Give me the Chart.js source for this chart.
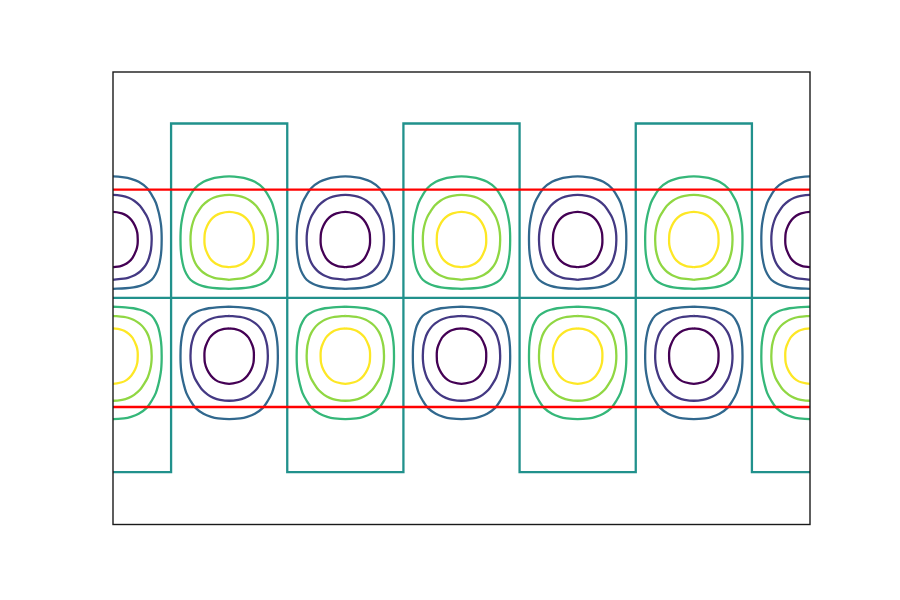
<!DOCTYPE html>
<html>
<head>
<meta charset="utf-8">
<script src="https://cdn.jsdelivr.net/npm/chart.js@4"></script>
<style>
  html, body { margin: 0; padding: 0; background: #fff; }
  #wrap { width: 900px; height: 600px; }
</style>
</head>
<body>
<div id="wrap"><canvas id="chart" width="900" height="600"></canvas></div>
<script>
// cell centres along x and the sign of the field in each row
const columns = [0, 1, 2, 3, 4, 5, 6];
const topRowSign = [-1, 1, -1, 1, -1, 1, -1];
const bottomRowSign = [1, -1, 1, -1, 1, -1, 1];

// contour levels and their viridis colours
const levels = [-0.75, -0.5, -0.25, 0, 0.25, 0.5, 0.75];
const levelColors = ["#440154", "#443983", "#31688e", "#21918c", "#35b779", "#90d743", "#fde725"];

// ring outlines (top row): height above the middle line, half width at that height
const outerY = [0.077, 0.082, 0.090, 0.103, 0.120, 0.155, 0.207, 0.263, 0.344, 0.420, 0.499, 0.560, 0.620, 0.680, 0.740, 0.818, 0.886, 0.947, 0.998, 1.024, 1.037, 1.044];
const outerHalfW = [0, 0.106, 0.176, 0.233, 0.280, 0.333, 0.369, 0.392, 0.409, 0.417, 0.419, 0.418, 0.414, 0.405, 0.392, 0.369, 0.333, 0.290, 0.221, 0.155, 0.095, 0];
const middleY = [0.155, 0.164, 0.172, 0.189, 0.207, 0.232, 0.263, 0.300, 0.344, 0.413, 0.499, 0.560, 0.620, 0.688, 0.740, 0.792, 0.835, 0.861, 0.878, 0.886];
const middleHalfW = [0, 0.093, 0.129, 0.176, 0.207, 0.240, 0.268, 0.292, 0.310, 0.327, 0.333, 0.330, 0.320, 0.298, 0.268, 0.232, 0.182, 0.135, 0.079, 0];
const innerY = [0.263, 0.271, 0.284, 0.310, 0.344, 0.413, 0.455, 0.499, 0.560, 0.620, 0.671, 0.706, 0.727, 0.740];
const innerHalfW = [0, 0.060, 0.096, 0.136, 0.168, 0.201, 0.211, 0.213, 0.209, 0.189, 0.157, 0.119, 0.076, 0];

// zero contour: square wave plus the middle line
const zeroWaveX = [0, 0.5, 0.5, 1.5, 1.5, 2.5, 2.5, 3.5, 3.5, 4.5, 4.5, 5.5, 5.5, 6];
const zeroWaveY = [-1.5, -1.5, 1.5, 1.5, -1.5, -1.5, 1.5, 1.5, -1.5, -1.5, 1.5, 1.5, -1.5, -1.5];
const zeroMidX = [0, 6];
const zeroMidY = [0, 0];

// horizontal red lines
const redLineY = [0.93, -0.94];

const xRange = [0, 6];
const yRange = [-1.951, 1.943];

function colorFor(level) {
  return levelColors[levels.indexOf(level)];
}

// closed outline: right side going outward, left side coming back
function ringPoints(cx, sign, ys, halfWs) {
  const pts = [];
  for (let i = 0; i < ys.length; i++) pts.push({ x: cx + halfWs[i], y: sign * ys[i] });
  for (let i = ys.length - 2; i >= 0; i--) pts.push({ x: cx - halfWs[i], y: sign * ys[i] });
  return pts;
}

const lineStyle = { showLine: true, pointRadius: 0, borderWidth: 2.3, fill: false };
const datasets = [];

redLineY.forEach((y) => {
  datasets.push({
    ...lineStyle,
    data: [{ x: xRange[0], y }, { x: xRange[1], y }],
    borderColor: "#ff0000",
  });
});

const rings = [
  { abs: 0.25, ys: outerY, ws: outerHalfW },
  { abs: 0.5, ys: middleY, ws: middleHalfW },
  { abs: 0.75, ys: innerY, ws: innerHalfW },
];

columns.forEach((cx, i) => {
  [[topRowSign[i], 1], [bottomRowSign[i], -1]].forEach(([sign, side]) => {
    rings.forEach((r) => {
      datasets.push({
        ...lineStyle,
        tension: 0.3,
        data: ringPoints(cx, side, r.ys, r.ws),
        borderColor: colorFor(sign * r.abs),
      });
    });
  });
});

datasets.push({
  ...lineStyle,
  data: zeroWaveX.map((x, i) => ({ x, y: zeroWaveY[i] })),
  borderColor: colorFor(0),
  borderJoinStyle: "miter",
});
datasets.push({
  ...lineStyle,
  data: zeroMidX.map((x, i) => ({ x, y: zeroMidY[i] })),
  borderColor: colorFor(0),
});

// axes frame like matplotlib spines
const framePlugin = {
  id: "frame",
  afterDraw(chart) {
    const { ctx, chartArea: a } = chart;
    ctx.save();
    ctx.strokeStyle = "#1a1a1a";
    ctx.lineWidth = 1.4;
    ctx.strokeRect(a.left, a.top, a.right - a.left, a.bottom - a.top);
    ctx.restore();
  },
};

new Chart(document.getElementById("chart"), {
  type: "scatter",
  data: { datasets },
  options: {
    responsive: false,
    animation: false,
    layout: { padding: { left: 113, right: 90, top: 72, bottom: 75.5 } },
    plugins: { legend: { display: false }, tooltip: { enabled: false } },
    scales: {
      x: { type: "linear", min: xRange[0], max: xRange[1], display: false },
      y: { type: "linear", min: yRange[0], max: yRange[1], display: false },
    },
  },
  plugins: [framePlugin],
});
</script>
</body>
</html>
